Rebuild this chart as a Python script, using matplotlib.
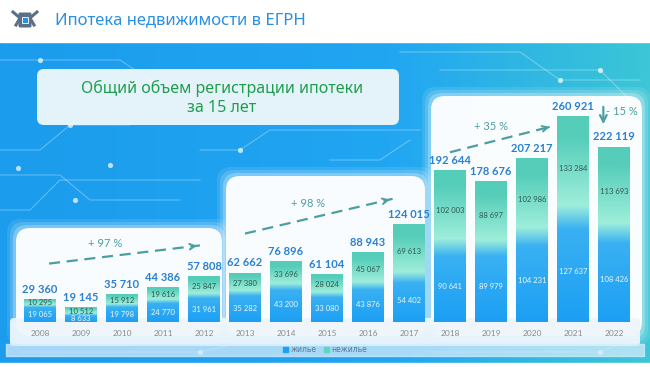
import numpy as np
import matplotlib
matplotlib.use("Agg")
import matplotlib.pyplot as plt
from matplotlib.patches import FancyBboxPatch, Rectangle, Patch
from matplotlib.colors import to_rgb

# ---------------- data ----------------
years = ["2008", "2009", "2010", "2011", "2012", "2013", "2014", "2015",
         "2016", "2017", "2018", "2019", "2020", "2021", "2022"]
residential = [19065, 8633, 19798, 24770, 31961, 35282, 43200, 33080,
               43876, 54402, 90641, 89979, 104231, 127637, 108426]
nonresidential = [10295, 10512, 15912, 19616, 25847, 27380, 33696, 28024,
                  45067, 69613, 102003, 88697, 102986, 133284, 113693]
totals = [29360, 19145, 35710, 44386, 57808, 62662, 76896, 61104,
          88943, 124015, 192644, 178676, 207217, 260921, 222119]
growth_labels = ["+ 97 %", "+ 98 %", "+ 35 %", "- 15 %"]

title = "Ипотека недвижимости в ЕГРН"
subtitle = "Общий объем регистрации ипотеки\nза 15 лет"
legend_labels = ["жилье", "нежилье"]

def fmt(v):
    return f"{v:,}".replace(",", " ")

W, H = 650, 367
fig = plt.figure(figsize=(W / 100, H / 100), dpi=100)

# ---------------- background (pixel coordinates) ----------------
bg = fig.add_axes([0, 0, 1, 1])
bg.set_xlim(0, W)
bg.set_ylim(H, 0)
bg.axis("off")

nx = 200
grad = np.zeros((2, nx, 3))
c_left = np.array(to_rgb("#1b9cec"))
c_mid = np.array(to_rgb("#21a6f2"))
c_right = np.array(to_rgb("#3cc6d6"))
for i in range(nx):
    t = i / (nx - 1)
    if t < 0.6:
        c = c_left + (c_mid - c_left) * (t / 0.6)
    else:
        c = c_mid + (c_right - c_mid) * ((t - 0.6) / 0.4)
    grad[:, i] = c
bg.imshow(grad, extent=[0, W, 363, 42], aspect="auto", zorder=0)

lw_c = 0.7
circ = [
    [(0, 150), (40, 150), (70, 125), (130, 125)],
    [(0, 175), (60, 175), (90, 200), (180, 200)],
    [(0, 210), (30, 210), (60, 180), (200, 180)],
    [(0, 60), (120, 60), (150, 80), (300, 80)],
    [(400, 52), (520, 52), (560, 80), (640, 80)],
    [(440, 70), (600, 70), (630, 100)],
    [(200, 150), (240, 150), (270, 130), (420, 130)],
    [(330, 160), (380, 160), (410, 140)],
    [(20, 352), (200, 352), (230, 345), (420, 345)],
    [(430, 352), (600, 352), (630, 340)],
]
for pts in circ:
    xs, ys = zip(*pts)
    bg.plot(xs, ys, color="white", alpha=0.35, lw=lw_c, zorder=1)
for (x, y) in [(40, 60), (70, 125), (18, 168), (110, 165), (75, 200), (150, 80),
               (560, 80), (600, 70), (240, 150), (200, 352), (600, 352)]:
    bg.scatter([x], [y], s=14, color="white", alpha=0.7, zorder=1, linewidths=0)

bg.add_patch(Rectangle((0, 0), W, 42, color="white", zorder=2))
bg.add_patch(Rectangle((0, 363), W, 4, color="white", zorder=2))

def glow_panel(x0, y0, x1, y1, r=14):
    for k, a in [(9, 0.10), (6, 0.15), (3, 0.25)]:
        bg.add_patch(FancyBboxPatch((x0 - k + r, y0 - k + r), (x1 - x0) + 2 * k - 2 * r,
                                    (y1 - y0) + 2 * k - 2 * r,
                                    boxstyle=f"round,pad={r}", fc="white", ec="none",
                                    alpha=a, zorder=3))
    bg.add_patch(FancyBboxPatch((x0 + r, y0 + r), (x1 - x0) - 2 * r, (y1 - y0) - 2 * r,
                                boxstyle=f"round,pad={r}", fc="white", ec="none",
                                alpha=0.96, zorder=3))

glow_panel(16, 228, 222, 336)
glow_panel(226, 176, 425, 336)
glow_panel(431, 96, 642, 336)
bg.add_patch(FancyBboxPatch((14, 322), 622, 20, boxstyle="round,pad=4",
                            fc="#eef6fc", ec="none", alpha=0.95, zorder=3))
bg.add_patch(Rectangle((6, 344), 638, 12, color="#d6ecfa", alpha=0.75, zorder=3))

# subtitle box
bg.add_patch(FancyBboxPatch((44, 76), 348, 42, boxstyle="round,pad=7",
                            fc="#ecf6fb", ec="none", alpha=0.97, zorder=4))
bg.text(222, 88, subtitle.split("\n")[0], color="#1f9d4c", fontsize=11.5,
        family="Noto Sans", ha="center", va="center", zorder=5)
bg.text(222, 108, subtitle.split("\n")[1], color="#1f9d4c", fontsize=11.5,
        family="Noto Sans", ha="center", va="center", zorder=5)

# title + simple emblem
bg.text(55, 20, title, color="#2b8fe2", fontsize=12, family="Noto Sans",
        ha="left", va="center", zorder=5)
ex, ey = 25, 20
bg.add_patch(FancyBboxPatch((ex - 5, ey - 6), 10, 12, boxstyle="round,pad=1.5",
                            fc="#5b6f86", ec="none", zorder=5))
bg.plot([ex - 12, ex - 5, ex - 9], [ey - 8, ey - 2, ey + 5], color="#5b6f86", lw=2.2, zorder=5)
bg.plot([ex + 12, ex + 5, ex + 9], [ey - 8, ey - 2, ey + 5], color="#5b6f86", lw=2.2, zorder=5)
bg.add_patch(Rectangle((ex - 3, ey - 3), 6, 6, fc="#2b8fe2", ec="white", lw=0.6, zorder=6))

# ---------------- chart axes ----------------
base_px = 322
units_per_px = 1266.6
x_first, step = 40, 41
ax = fig.add_axes([0, (H - base_px) / H, 1, base_px / H])
ax.set_facecolor("none")
for s in ax.spines.values():
    s.set_visible(False)
ax.set_yticks([])
x = np.arange(len(years))
ax.set_xticks(x)
ax.set_xticklabels(years, fontsize=6, color="#8a8a8a", family="Lato")
ax.tick_params(axis="x", length=0, pad=6)

bw = 0.78
blue_lo = np.array(to_rgb("#1c9ff4"))
blue_hi = np.array(to_rgb("#3cb2f2"))
mint = np.array(to_rgb("#9eeeda"))
teal = np.array(to_rgb("#55cdb9"))

bars_r = ax.bar(x, residential, bw, color="#1c9ff4", zorder=5)
bars_n = ax.bar(x, nonresidential, bw, bottom=residential, color="#55cdb9", zorder=5)

for i in range(len(years)):
    r, n = residential[i], nonresidential[i]
    tot = r + n
    N = 300
    ys = np.linspace(0, tot, N)
    img = np.zeros((N, 1, 3))
    tr = 0.15 * tot
    for k, yv in enumerate(ys):
        if yv < r - 0.25 * tr:
            t = yv / max(r, 1)
            c = blue_lo + (blue_hi - blue_lo) * t
        elif yv < r + 0.5 * tr:
            t = (yv - (r - 0.25 * tr)) / (0.75 * tr)
            c = blue_hi + (mint - blue_hi) * t
        else:
            t = (yv - (r + 0.5 * tr)) / max(tot - (r + 0.5 * tr), 1)
            c = mint + (teal - mint) * min(t * 1.3, 1)
        img[k, 0] = c
    im = ax.imshow(img, extent=[x[i] - bw / 2, x[i] + bw / 2, 0, tot], origin="lower",
                   aspect="auto", zorder=6)
    clip = Rectangle((x[i] - bw / 2, 0), bw, tot, transform=ax.transData)
    im.set_clip_path(clip)

    ax.text(x[i], r / 2, fmt(r), ha="center", va="center", fontsize=5.5,
            color="#eef7ff", family="Lato", zorder=8)
    ax.text(x[i], r + n / 2, fmt(n), ha="center", va="center", fontsize=5.5,
            color="#2f5a50", family="Lato", zorder=8)
    ax.annotate(fmt(tot), (x[i], tot), xytext=(0, 3), textcoords="offset points",
                ha="center", va="bottom", fontsize=8, fontweight="bold",
                color="#2a80d2", family="Lato", zorder=8)

ax.set_xlim(-x_first / step, (W - x_first) / step)
ax.set_ylim(0, base_px * units_per_px)

arrow_col = "#4d9ea2"
def dashed_arrow(i0, v0, i1, v1, label, lx, lv):
    ax.plot([i0, i1], [v0, v1], ls=(0, (5, 3)), color=arrow_col, lw=1.6, zorder=7)
    ax.annotate("", xy=(i1, v1), xytext=(i1 - 0.15, v1 - (v1 - v0) * 0.15 / (i1 - i0)),
                arrowprops=dict(arrowstyle="->", color=arrow_col, lw=1.4), zorder=7)
    ax.text(lx, lv, label, ha="center", va="center", fontsize=8, color=arrow_col,
            family="Lato", zorder=7)

dashed_arrow(0.22, 74000, 3.9, 97000, growth_labels[0], 1.6, 100000)
dashed_arrow(5.0, 112000, 8.6, 156000, growth_labels[1], 6.55, 150000)
dashed_arrow(10.0, 215000, 12.5, 248000, growth_labels[2], 11.0, 248000)
ax.annotate("", xy=(13.74, 247000), xytext=(13.74, 276000),
            arrowprops=dict(arrowstyle="->", color=arrow_col, lw=1.6,
                            mutation_scale=12), zorder=7)
ax.text(14.2, 267000, growth_labels[3], ha="center", va="center", fontsize=8,
        color=arrow_col, family="Lato", zorder=7)

handles = [Patch(color="#1c9ff4"), Patch(color="#5fd6c0")]
leg = fig.legend(handles, legend_labels, loc="center", bbox_to_anchor=(325 / W, 1 - 350 / H),
                 ncol=2, frameon=False, fontsize=5.5, handlelength=0.6, handleheight=0.6,
                 handletextpad=0.3, columnspacing=1.0, labelcolor="#5a7898")

fig.savefig("out.png", dpi=100)
